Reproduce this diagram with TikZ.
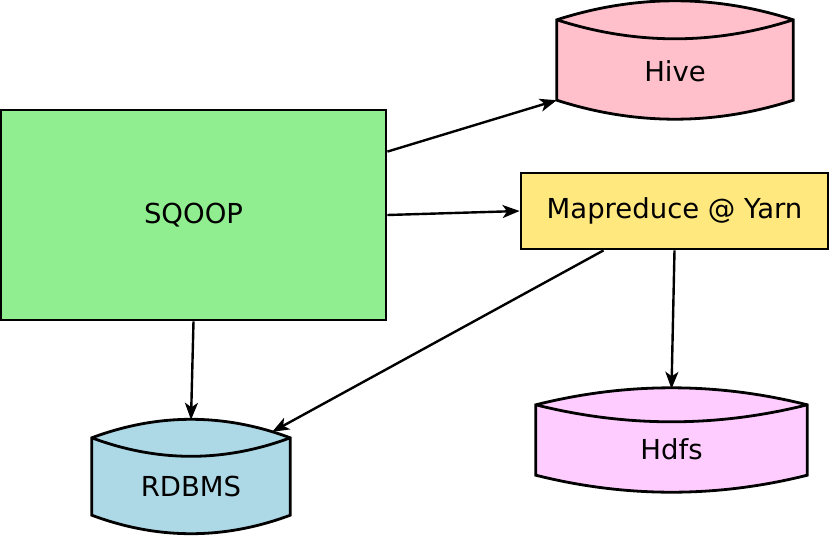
\documentclass[tikz,border=0pt]{standalone}
\usepackage{fontspec}
\setmainfont{DejaVu Sans}
\usetikzlibrary{arrows.meta,backgrounds,calc}
\definecolor{sqoopgreen}{HTML}{90EE90}
\definecolor{mryellow}{HTML}{FFE97F}
\definecolor{hivepink}{HTML}{FFC0CB}
\definecolor{hdfsviolet}{HTML}{FFCCFF}
\definecolor{rdbmsblue}{HTML}{ADD8E6}
% arc from #1 to #2 bulging by #3 (upwards for positive #3)
\newcommand{\bulge}[3]{.. controls ($(#1)!1/3!(#2)+(0,4*#3/3)$) and ($(#1)!2/3!(#2)+(0,4*#3/3)$) .. (#2)}
% outline of a storage drum round a node: node, bulge, lift of the lower corners, fill
\newcommand{\drum}[4]{%
  \draw[line width=2.8pt, fill=#4] (#1.north west) \bulge{#1.north west}{#1.north east}{#2}
    -- ([yshift=#3]#1.south east)
    \bulge{[yshift=#3]#1.south east}{[yshift=#3]#1.south west}{-#2} -- cycle;
  \draw[line width=2.8pt] (#1.north west) \bulge{#1.north west}{#1.north east}{-#2};}
\begin{document}
\begin{tikzpicture}[x=1pt, y=1pt,
% common options for the boxes:
box/.style = {draw, line width=2.8pt, align=center, inner sep=0,
            font=\fontsize{27.5}{33}\selectfont},
% common options for the drums (outline drawn on the background):
store/.style = {rectangle, align=center, inner sep=0,
            font=\fontsize{27.5}{33}\selectfont},
arr/.style = {line width=2.4pt, -{Stealth[length=17pt,width=13pt,inset=4.5pt]}}]
\useasboundingbox (0,0) rectangle (829,-535);
\node[box, fill=sqoopgreen, minimum width=385, minimum height=210] (sqoop) at (193.5,-215) {SQOOP};
\node[box, fill=mryellow, minimum width=307, minimum height=76] (mr) at (674.5,-211) {Mapreduce @ Yarn};
\node[store, minimum width=236, minimum height=102] (hive) at (675,-71) {Hive};
\node[store, minimum width=271, minimum height=88] (hdfs) at (671.5,-449) {Hdfs};
\node[store, minimum width=198, minimum height=96] (rdbms) at (191,-486) {RDBMS};
\begin{pgfonlayer}{background}
\drum{hive}{19}{22}{hivepink}
\drum{hdfs}{17}{18}{hdfsviolet}
\drum{rdbms}{18.5}{19}{rdbmsblue}
\end{pgfonlayer}
\draw[arr] ([yshift=-43]sqoop.north east) -- ([yshift=22]hive.south west);
\draw[arr] (sqoop.east) -- (mr.west);
\draw[arr] (mr.south) -- ([yshift=16]hdfs.north);
\draw[arr] ([xshift=-71]mr.south) -- ([xshift=-18,yshift=6]rdbms.north east);
\draw[arr] (sqoop.south) -- ([yshift=18]rdbms.north);
\end{tikzpicture}
\end{document}
